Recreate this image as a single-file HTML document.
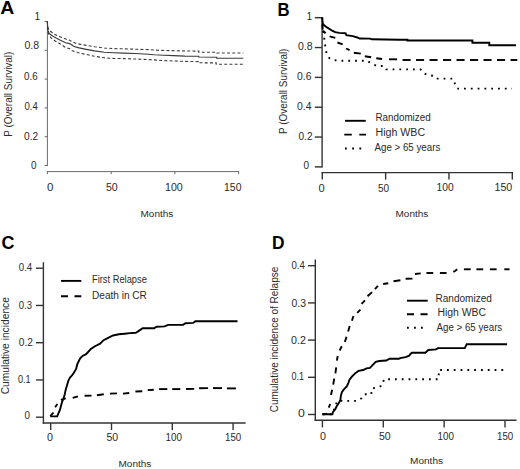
<!DOCTYPE html>
<html><head><meta charset="utf-8"><style>
html,body{margin:0;padding:0;background:#fff;}
body{width:520px;height:469px;overflow:hidden;}
svg{display:block;font-family:"Liberation Sans", sans-serif;}
</style></head><body>
<svg width="520" height="469" viewBox="0 0 520 469">
<rect width="520" height="469" fill="#fff"/>
<line x1="47.4" y1="21" x2="47.4" y2="166" stroke="#6a6a6a" stroke-width="1"/>
<line x1="44.6" y1="21.5" x2="47.4" y2="21.5" stroke="#6a6a6a" stroke-width="1"/>
<line x1="44.6" y1="50.3" x2="47.4" y2="50.3" stroke="#6a6a6a" stroke-width="1"/>
<line x1="44.6" y1="79.1" x2="47.4" y2="79.1" stroke="#6a6a6a" stroke-width="1"/>
<line x1="44.6" y1="107.9" x2="47.4" y2="107.9" stroke="#6a6a6a" stroke-width="1"/>
<line x1="44.6" y1="136.7" x2="47.4" y2="136.7" stroke="#6a6a6a" stroke-width="1"/>
<line x1="44.6" y1="165.5" x2="47.4" y2="165.5" stroke="#6a6a6a" stroke-width="1"/>
<line x1="46.9" y1="171.6" x2="239.15" y2="171.6" stroke="#6a6a6a" stroke-width="1"/>
<line x1="47.4" y1="171.6" x2="47.4" y2="174.2" stroke="#6a6a6a" stroke-width="1"/>
<line x1="111.15" y1="171.6" x2="111.15" y2="174.2" stroke="#6a6a6a" stroke-width="1"/>
<line x1="174.9" y1="171.6" x2="174.9" y2="174.2" stroke="#6a6a6a" stroke-width="1"/>
<line x1="238.65" y1="171.6" x2="238.65" y2="174.2" stroke="#6a6a6a" stroke-width="1"/>
<polyline points="47.4,21.5 47.6,26 48,30.8 49.3,33.4 51.8,35.5 56.1,38 60.4,40.2 65.5,42.7 69.7,43.6 72.3,45.3 74,46.6 79.1,47.9 85,49.1 94.6,50.9 104.2,52.3 113.8,52.8 123.5,53.1 135,53.5 144.6,54 154.2,54.8 163.8,55.3 173.5,55.6 185,56.1 198.8,56.2 198.8,57 216.7,57.2 216.7,58.2 243.3,58.2" fill="none" stroke="#3a3a3a" stroke-width="1.1" stroke-linecap="butt" stroke-linejoin="miter"/>
<polyline points="47.4,21.5 47.6,25 48,28.2 50.1,30.8 53.5,33.8 57.8,35.9 62.1,37.6 66.3,39.3 69.7,40.3 72.3,41.9 75.7,43.2 80.8,44.4 85,45.1 94.6,46.7 104.2,48 113.8,48.6 123.5,48.8 135,49.2 149.4,49.7 159,50.3 185,51 198.8,51.1 198.8,52.2 216.7,52.3 216.7,53 243.3,53" fill="none" stroke="#3a3a3a" stroke-width="1.1" stroke-dasharray="3 2.2" stroke-linecap="butt" stroke-linejoin="miter"/>
<polyline points="47.4,21.5 47.6,28 48.3,33 51,38 55.2,41 60.4,44 65.5,47.4 69.7,48.7 72.3,50.8 77.4,52.5 85,54.2 94.6,56.3 104.2,57.8 113.8,58.4 123.5,58.6 135,59 154.2,59.9 163.8,60.6 185,61.4 198.3,61.6 198.3,62.8 216.2,62.9 216.2,64.2 243.3,64.2" fill="none" stroke="#3a3a3a" stroke-width="1.1" stroke-dasharray="3 2.2" stroke-linecap="butt" stroke-linejoin="miter"/>
<line x1="322.1" y1="17.1" x2="322.1" y2="167.5" stroke="#333" stroke-width="1.4"/>
<line x1="314.8" y1="17.7" x2="322.1" y2="17.7" stroke="#333" stroke-width="1.4"/>
<line x1="314.8" y1="47.54" x2="322.1" y2="47.54" stroke="#333" stroke-width="1.4"/>
<line x1="314.8" y1="77.38" x2="322.1" y2="77.38" stroke="#333" stroke-width="1.4"/>
<line x1="314.8" y1="107.22" x2="322.1" y2="107.22" stroke="#333" stroke-width="1.4"/>
<line x1="314.8" y1="137.06" x2="322.1" y2="137.06" stroke="#333" stroke-width="1.4"/>
<line x1="314.8" y1="166.9" x2="322.1" y2="166.9" stroke="#333" stroke-width="1.4"/>
<line x1="321.4" y1="172.6" x2="513.01" y2="172.6" stroke="#333" stroke-width="1.4"/>
<line x1="322.3" y1="172.6" x2="322.3" y2="179.6" stroke="#333" stroke-width="1.4"/>
<line x1="385.63" y1="172.6" x2="385.63" y2="179.6" stroke="#333" stroke-width="1.4"/>
<line x1="448.97" y1="172.6" x2="448.97" y2="179.6" stroke="#333" stroke-width="1.4"/>
<line x1="512.31" y1="172.6" x2="512.31" y2="179.6" stroke="#333" stroke-width="1.4"/>
<polyline points="322.2,17.5 322.5,21 322.8,23.6 324.4,25.5 327,27.4 329.5,29 332.1,30.6 335.3,32.2 339.1,32.9 345.5,33.2 346.4,35.2 352.7,36.1 357.3,37.5 359.6,38.5 370,38.6 371.7,39.3 400,39.7 407.4,39.8 407.4,40.5 472.4,40.5 472.4,42.7 489.3,42.7 489.3,45.2 516,45.2" fill="none" stroke="#000" stroke-width="1.9" stroke-linecap="butt" stroke-linejoin="miter"/>
<line x1="322.4" y1="24.5" x2="322.7" y2="29.5" stroke="#000" stroke-width="1.9"/>
<line x1="322.9" y1="30.8" x2="325.6" y2="33.3" stroke="#000" stroke-width="1.9"/>
<line x1="329.6" y1="36.4" x2="335.3" y2="37.9" stroke="#000" stroke-width="1.9"/>
<line x1="337.4" y1="42.5" x2="342.7" y2="44.3" stroke="#000" stroke-width="1.9"/>
<line x1="346.1" y1="48.5" x2="349.6" y2="50.2" stroke="#000" stroke-width="1.9"/>
<line x1="353.8" y1="52.7" x2="360.8" y2="53.6" stroke="#000" stroke-width="1.9"/>
<line x1="364.8" y1="56.2" x2="371.2" y2="57.3" stroke="#000" stroke-width="1.9"/>
<line x1="376.3" y1="58.2" x2="382.1" y2="59" stroke="#000" stroke-width="1.9"/>
<line x1="389" y1="59.3" x2="397.1" y2="59.3" stroke="#000" stroke-width="1.9"/>
<line x1="402.5" y1="60" x2="410.6" y2="60" stroke="#000" stroke-width="1.9"/>
<line x1="416" y1="60" x2="424.1" y2="60" stroke="#000" stroke-width="1.9"/>
<line x1="429.5" y1="60" x2="437.6" y2="60" stroke="#000" stroke-width="1.9"/>
<line x1="443" y1="60" x2="451.1" y2="60" stroke="#000" stroke-width="1.9"/>
<line x1="456.5" y1="60" x2="464.6" y2="60" stroke="#000" stroke-width="1.9"/>
<line x1="470" y1="60" x2="478.1" y2="60" stroke="#000" stroke-width="1.9"/>
<line x1="483.5" y1="60" x2="491.6" y2="60" stroke="#000" stroke-width="1.9"/>
<line x1="497" y1="60" x2="505.1" y2="60" stroke="#000" stroke-width="1.9"/>
<line x1="510.5" y1="60" x2="517.3" y2="60" stroke="#000" stroke-width="1.9"/>
<polyline points="322.2,17.5 322.6,24 323,30 324.1,36.7 324.7,42.9 325.7,48.7 326.7,54.4 329.5,58.3 334.3,60.2 341,60.8 367.7,60.8 368.8,61.9 372.3,63.7 376.9,66 384,66 386.2,69.4 420.6,69.4 423,72.8 428,75.1 434.7,75.9 437.5,78.6 453,78.6 455,84 457,88.6 512,88.6" fill="none" stroke="#000" stroke-width="1.9" stroke-dasharray="1.8 5" stroke-linecap="butt" stroke-linejoin="miter"/>
<line x1="345" y1="120.8" x2="365.8" y2="120.8" stroke="#000" stroke-width="1.9"/>
<polyline points="344.3,134.6 366,134.6" fill="none" stroke="#000" stroke-width="1.9" stroke-dasharray="7.5 7.5" stroke-linecap="butt" stroke-linejoin="miter"/>
<polyline points="345,148.5 362,148.5" fill="none" stroke="#000" stroke-width="1.9" stroke-dasharray="1.8 5.4" stroke-linecap="butt" stroke-linejoin="miter"/>
<line x1="43.4" y1="262.2" x2="43.4" y2="423.7" stroke="#333" stroke-width="1.4"/>
<line x1="36" y1="268.2" x2="43.4" y2="268.2" stroke="#333" stroke-width="1.4"/>
<line x1="36" y1="305.45" x2="43.4" y2="305.45" stroke="#333" stroke-width="1.4"/>
<line x1="36" y1="342.7" x2="43.4" y2="342.7" stroke="#333" stroke-width="1.4"/>
<line x1="36" y1="379.95" x2="43.4" y2="379.95" stroke="#333" stroke-width="1.4"/>
<line x1="36" y1="417.2" x2="43.4" y2="417.2" stroke="#333" stroke-width="1.4"/>
<line x1="42.7" y1="423" x2="245.6" y2="423" stroke="#333" stroke-width="1.4"/>
<line x1="50.7" y1="423" x2="50.7" y2="430" stroke="#333" stroke-width="1.4"/>
<line x1="111.5" y1="423" x2="111.5" y2="430" stroke="#333" stroke-width="1.4"/>
<line x1="172.3" y1="423" x2="172.3" y2="430" stroke="#333" stroke-width="1.4"/>
<line x1="233.1" y1="423" x2="233.1" y2="430" stroke="#333" stroke-width="1.4"/>
<polyline points="50.3,416.4 57.2,416.4 58.3,413.7 59.9,410 60.9,406.3 62,402 63.6,398.3 64.7,394.5 65.7,389.7 66.8,386 68.4,380.7 70,377.5 72,375.5 74,372.5 76.1,368.9 77.3,364.2 80.2,358.3 82.5,356 86.1,354.2 90.8,349 95.4,346 100.1,343.7 103.6,340.2 107.2,338.4 113,335.5 118.9,334.3 124.7,333.7 130,333.1 135.8,332.8 138.1,331.4 142.7,328.2 154.2,328.2 156.5,326.8 164.6,326.4 168.1,324.9 183.1,324.7 185.4,323.3 193.1,322.9 195.4,321.2 237.5,321.2" fill="none" stroke="#000" stroke-width="1.9" stroke-linecap="butt" stroke-linejoin="miter"/>
<polyline points="50.3,416.2 53.5,412.5" fill="none" stroke="#000" stroke-width="1.9" stroke-linecap="butt" stroke-linejoin="miter"/>
<polyline points="55.1,407.3 57.4,404" fill="none" stroke="#000" stroke-width="1.9" stroke-linecap="butt" stroke-linejoin="miter"/>
<polyline points="60.9,399.9 65.7,398.3" fill="none" stroke="#000" stroke-width="1.9" stroke-linecap="butt" stroke-linejoin="miter"/>
<polyline points="72.7,397.9 78,396.3" fill="none" stroke="#000" stroke-width="1.9" stroke-linecap="butt" stroke-linejoin="miter"/>
<polyline points="84.6,395.7 91.5,395.6" fill="none" stroke="#000" stroke-width="1.9" stroke-linecap="butt" stroke-linejoin="miter"/>
<polyline points="96.9,395.2 103.8,394.3" fill="none" stroke="#000" stroke-width="1.9" stroke-linecap="butt" stroke-linejoin="miter"/>
<polyline points="110,393.6 116.9,393.4" fill="none" stroke="#000" stroke-width="1.9" stroke-linecap="butt" stroke-linejoin="miter"/>
<polyline points="123,393.6 129.2,393" fill="none" stroke="#000" stroke-width="1.9" stroke-linecap="butt" stroke-linejoin="miter"/>
<polyline points="135.4,391.5 142.3,391.3" fill="none" stroke="#000" stroke-width="1.9" stroke-linecap="butt" stroke-linejoin="miter"/>
<polyline points="147.7,390.1 153.8,389.8" fill="none" stroke="#000" stroke-width="1.9" stroke-linecap="butt" stroke-linejoin="miter"/>
<polyline points="159.1,389.1 167.3,389.1" fill="none" stroke="#000" stroke-width="1.9" stroke-linecap="butt" stroke-linejoin="miter"/>
<polyline points="172.2,389.1 180.3,389.1" fill="none" stroke="#000" stroke-width="1.9" stroke-linecap="butt" stroke-linejoin="miter"/>
<polyline points="186.1,389 194.2,388.9" fill="none" stroke="#000" stroke-width="1.9" stroke-linecap="butt" stroke-linejoin="miter"/>
<polyline points="199.1,388.2 208.1,388.1" fill="none" stroke="#000" stroke-width="1.9" stroke-linecap="butt" stroke-linejoin="miter"/>
<polyline points="213,388.1 222,388.1" fill="none" stroke="#000" stroke-width="1.9" stroke-linecap="butt" stroke-linejoin="miter"/>
<polyline points="226.9,388.4 235.9,388.4" fill="none" stroke="#000" stroke-width="1.9" stroke-linecap="butt" stroke-linejoin="miter"/>
<line x1="61" y1="280.9" x2="81.3" y2="280.9" stroke="#000" stroke-width="1.9"/>
<polyline points="61,296.3 81.3,296.3" fill="none" stroke="#000" stroke-width="1.9" stroke-dasharray="7 6.5" stroke-linecap="butt" stroke-linejoin="miter"/>
<line x1="315.3" y1="259.6" x2="315.3" y2="421" stroke="#333" stroke-width="1.4"/>
<line x1="308" y1="265.7" x2="315.3" y2="265.7" stroke="#333" stroke-width="1.4"/>
<line x1="308" y1="302.9" x2="315.3" y2="302.9" stroke="#333" stroke-width="1.4"/>
<line x1="308" y1="340.1" x2="315.3" y2="340.1" stroke="#333" stroke-width="1.4"/>
<line x1="308" y1="377.3" x2="315.3" y2="377.3" stroke="#333" stroke-width="1.4"/>
<line x1="308" y1="414.5" x2="315.3" y2="414.5" stroke="#333" stroke-width="1.4"/>
<line x1="314.6" y1="420.3" x2="516.5" y2="420.3" stroke="#333" stroke-width="1.4"/>
<line x1="322.4" y1="420.3" x2="322.4" y2="427.5" stroke="#333" stroke-width="1.4"/>
<line x1="383.26" y1="420.3" x2="383.26" y2="427.5" stroke="#333" stroke-width="1.4"/>
<line x1="444.13" y1="420.3" x2="444.13" y2="427.5" stroke="#333" stroke-width="1.4"/>
<line x1="505" y1="420.3" x2="505" y2="427.5" stroke="#333" stroke-width="1.4"/>
<polyline points="322.3,414.3 332.4,414.3 332.9,412.1 335.1,409.5 336.7,406.3 338.8,403.1 340.4,399.9 340.9,395.6 342,391.9 344.1,389.2 346.8,386.5 348.4,382.8 349.5,379.6 352.1,376.4 355.3,373.3 358.5,370.9 363.1,370 366.5,368.3 370,367.9 372.3,365.4 375.8,361.9 379.2,361 386.2,360.5 389.6,358.7 398.8,358.7 401.2,357.9 405.8,357.1 409.2,355.6 410.5,354 411.9,352.7 425.4,352.7 428.3,350 436,349.4 437.9,348.1 464.8,348.1 466.7,344.2 507.1,344.2" fill="none" stroke="#000" stroke-width="1.9" stroke-linecap="butt" stroke-linejoin="miter"/>
<polyline points="322.7,414.4 327,413.6" fill="none" stroke="#000" stroke-width="1.9" stroke-linecap="butt" stroke-linejoin="miter"/>
<polyline points="328.7,407.7 330.2,404" fill="none" stroke="#000" stroke-width="1.9" stroke-linecap="butt" stroke-linejoin="miter"/>
<polyline points="331,395 332.1,389.8" fill="none" stroke="#000" stroke-width="1.9" stroke-linecap="butt" stroke-linejoin="miter"/>
<polyline points="333.2,384.6 334.2,378.6" fill="none" stroke="#000" stroke-width="1.9" stroke-linecap="butt" stroke-linejoin="miter"/>
<polyline points="335.4,373.4 336.2,367.4" fill="none" stroke="#000" stroke-width="1.9" stroke-linecap="butt" stroke-linejoin="miter"/>
<polyline points="336.9,360.7 337.7,356.2" fill="none" stroke="#000" stroke-width="1.9" stroke-linecap="butt" stroke-linejoin="miter"/>
<polyline points="339.6,350.5 341.8,346.2" fill="none" stroke="#000" stroke-width="1.9" stroke-linecap="butt" stroke-linejoin="miter"/>
<polyline points="344.9,342.1 346.5,336.8" fill="none" stroke="#000" stroke-width="1.9" stroke-linecap="butt" stroke-linejoin="miter"/>
<polyline points="348.1,331.5 349.7,326.1" fill="none" stroke="#000" stroke-width="1.9" stroke-linecap="butt" stroke-linejoin="miter"/>
<polyline points="351.9,320.8 353.5,316" fill="none" stroke="#000" stroke-width="1.9" stroke-linecap="butt" stroke-linejoin="miter"/>
<polyline points="357.2,312.8 360.4,309.6" fill="none" stroke="#000" stroke-width="1.9" stroke-linecap="butt" stroke-linejoin="miter"/>
<polyline points="361.5,303.8 365,300.3" fill="none" stroke="#000" stroke-width="1.9" stroke-linecap="butt" stroke-linejoin="miter"/>
<polyline points="367.5,296.2 372.1,292.1" fill="none" stroke="#000" stroke-width="1.9" stroke-linecap="butt" stroke-linejoin="miter"/>
<polyline points="375,289.2 377.9,285.8" fill="none" stroke="#000" stroke-width="1.9" stroke-linecap="butt" stroke-linejoin="miter"/>
<polyline points="383.1,284 388.3,283.2" fill="none" stroke="#000" stroke-width="1.9" stroke-linecap="butt" stroke-linejoin="miter"/>
<polyline points="393.5,281.2 400.4,280.3" fill="none" stroke="#000" stroke-width="1.9" stroke-linecap="butt" stroke-linejoin="miter"/>
<polyline points="405.6,278.8 412.5,278.6" fill="none" stroke="#000" stroke-width="1.9" stroke-linecap="butt" stroke-linejoin="miter"/>
<polyline points="415,274 420.7,273.4" fill="none" stroke="#000" stroke-width="1.9" stroke-linecap="butt" stroke-linejoin="miter"/>
<polyline points="426.4,273 433.2,273" fill="none" stroke="#000" stroke-width="1.9" stroke-linecap="butt" stroke-linejoin="miter"/>
<polyline points="439.9,273 446.6,273" fill="none" stroke="#000" stroke-width="1.9" stroke-linecap="butt" stroke-linejoin="miter"/>
<polyline points="453.3,271.8 455,271 457.2,269.3" fill="none" stroke="#000" stroke-width="1.9" stroke-linecap="butt" stroke-linejoin="miter"/>
<polyline points="463.9,269.3 470.7,269.3" fill="none" stroke="#000" stroke-width="1.9" stroke-linecap="butt" stroke-linejoin="miter"/>
<polyline points="476.4,269.3 483.2,269.3" fill="none" stroke="#000" stroke-width="1.9" stroke-linecap="butt" stroke-linejoin="miter"/>
<polyline points="489.9,269.3 496.6,269.3" fill="none" stroke="#000" stroke-width="1.9" stroke-linecap="butt" stroke-linejoin="miter"/>
<polyline points="504.3,269.3 509.5,269.3" fill="none" stroke="#000" stroke-width="1.9" stroke-linecap="butt" stroke-linejoin="miter"/>
<polyline points="322.7,414.4 332.4,414.3 333.5,411 335.5,406 337.3,400.9 357.5,400.9 361.5,398.3 364.4,394.2 371.3,394.2 371.7,388.5 377.7,387.3 382.3,385.6 384,379.2 438.75,379.2 438.75,370 506.25,370" fill="none" stroke="#000" stroke-width="1.9" stroke-dasharray="1.8 5" stroke-linecap="butt" stroke-linejoin="miter"/>
<line x1="406.9" y1="300.7" x2="427.7" y2="300.7" stroke="#000" stroke-width="1.9"/>
<polyline points="406.9,314.3 427.7,314.3" fill="none" stroke="#000" stroke-width="1.9" stroke-dasharray="7.1 6.5" stroke-linecap="butt" stroke-linejoin="miter"/>
<polyline points="407,327.7 425,327.7" fill="none" stroke="#000" stroke-width="1.9" stroke-dasharray="1.8 5.2" stroke-linecap="butt" stroke-linejoin="miter"/>
<text id="pA" x="0.2" y="13.85" font-size="17.6" font-weight="bold" fill="#000" textLength="14.09" lengthAdjust="spacingAndGlyphs">A</text>
<text id="pB" x="277.5" y="15.7" font-size="17.6" font-weight="bold" fill="#000" textLength="12.06" lengthAdjust="spacingAndGlyphs">B</text>
<text id="pC" x="1.5" y="249" font-size="17.6" font-weight="bold" fill="#000" textLength="12.98" lengthAdjust="spacingAndGlyphs">C</text>
<text id="pD" x="272" y="249" font-size="17.6" font-weight="bold" fill="#000" textLength="12.53" lengthAdjust="spacingAndGlyphs">D</text>
<text id="Ay1" x="34.45" y="19.8" font-size="10.2" fill="#2a2a2a">1</text>
<text id="Ay08" x="24.5" y="49.2" font-size="10.2" fill="#2a2a2a" textLength="14.58" lengthAdjust="spacingAndGlyphs">0.8</text>
<text id="Ay06" x="24" y="80.1" font-size="10.2" fill="#2a2a2a" textLength="13.59" lengthAdjust="spacingAndGlyphs">0.6</text>
<text id="Ay04" x="24.5" y="110.1" font-size="10.2" fill="#2a2a2a" textLength="13.39" lengthAdjust="spacingAndGlyphs">0.4</text>
<text id="Ay02" x="24" y="139.5" font-size="10.2" fill="#2a2a2a" textLength="14.17" lengthAdjust="spacingAndGlyphs">0.2</text>
<text id="Ay0" x="31" y="168.5" font-size="10.2" fill="#2a2a2a" textLength="5.53" lengthAdjust="spacingAndGlyphs">0</text>
<text id="Ax0" x="47" y="191" font-size="10.2" fill="#2a2a2a" textLength="6.43" lengthAdjust="spacingAndGlyphs">0</text>
<text id="Ax50" x="106" y="190.8" font-size="10.2" fill="#2a2a2a" textLength="11.76" lengthAdjust="spacingAndGlyphs">50</text>
<text id="Ax100" x="165" y="190.9" font-size="10.2" fill="#2a2a2a" textLength="17.66" lengthAdjust="spacingAndGlyphs">100</text>
<text id="Ax150" x="224" y="190.9" font-size="10.2" fill="#2a2a2a" textLength="17.45" lengthAdjust="spacingAndGlyphs">150</text>
<text id="AM" x="140.5" y="216.7" font-size="9.7" fill="#2a2a2a" textLength="32.81" lengthAdjust="spacingAndGlyphs">Months</text>
<text id="Ayl" x="0" y="0" transform="translate(11.9,94.25) rotate(-90)" font-size="10.2" text-anchor="middle" fill="#2a2a2a" textLength="85.12" lengthAdjust="spacingAndGlyphs">P (Overall Survival)</text>
<text id="By1" x="306.6" y="19.8" font-size="10.2" fill="#2a2a2a">1</text>
<text id="By08" x="298" y="49.5" font-size="10.2" fill="#2a2a2a" textLength="14.66" lengthAdjust="spacingAndGlyphs">0.8</text>
<text id="By06" x="297" y="80.1" font-size="10.2" fill="#2a2a2a" textLength="14.42" lengthAdjust="spacingAndGlyphs">0.6</text>
<text id="By04" x="297" y="109.8" font-size="10.2" fill="#2a2a2a" textLength="14.42" lengthAdjust="spacingAndGlyphs">0.4</text>
<text id="By02" x="298.5" y="139.5" font-size="10.2" fill="#2a2a2a" textLength="13.99" lengthAdjust="spacingAndGlyphs">0.2</text>
<text id="By0" x="303.5" y="168.7" font-size="10.2" fill="#2a2a2a" textLength="5.53" lengthAdjust="spacingAndGlyphs">0</text>
<text id="Bx0" x="318.5" y="191.5" font-size="10.2" fill="#2a2a2a" textLength="6.14" lengthAdjust="spacingAndGlyphs">0</text>
<text id="Bx50" x="378" y="191.5" font-size="10.2" fill="#2a2a2a" textLength="11.17" lengthAdjust="spacingAndGlyphs">50</text>
<text id="Bx100" x="436.5" y="191.4" font-size="10.2" fill="#2a2a2a" textLength="17.1" lengthAdjust="spacingAndGlyphs">100</text>
<text id="Bx150" x="494.5" y="191.4" font-size="10.2" fill="#2a2a2a" textLength="17.79" lengthAdjust="spacingAndGlyphs">150</text>
<text id="BM" x="395.5" y="216.7" font-size="9.7" fill="#2a2a2a" textLength="32.81" lengthAdjust="spacingAndGlyphs">Months</text>
<text id="Byl" x="0" y="0" transform="translate(287,91.25) rotate(-90)" font-size="10.2" text-anchor="middle" fill="#2a2a2a" textLength="85.33" lengthAdjust="spacingAndGlyphs">P (Overall Survival)</text>
<text id="BL1" x="375.5" y="121.4" font-size="10" fill="#2a2a2a" textLength="55.14" lengthAdjust="spacingAndGlyphs">Randomized</text>
<text id="BL2" x="375.5" y="135.6" font-size="10" fill="#2a2a2a" textLength="49.6" lengthAdjust="spacingAndGlyphs">High WBC</text>
<text id="BL3" x="374.5" y="151" font-size="10" fill="#2a2a2a" textLength="65.78" lengthAdjust="spacingAndGlyphs">Age &gt; 65 years</text>
<text id="Cy04" x="18.75" y="271" font-size="10.2" fill="#2a2a2a" textLength="13.46" lengthAdjust="spacingAndGlyphs">0.4</text>
<text id="Cy03" x="18.75" y="308.7" font-size="10.2" fill="#2a2a2a" textLength="13.19" lengthAdjust="spacingAndGlyphs">0.3</text>
<text id="Cy02" x="18.75" y="346.25" font-size="10.2" fill="#2a2a2a" textLength="14.2" lengthAdjust="spacingAndGlyphs">0.2</text>
<text id="Cy01" x="18" y="382.7" font-size="10.2" fill="#2a2a2a" textLength="12.71" lengthAdjust="spacingAndGlyphs">0.1</text>
<text id="Cy0" x="24.5" y="419.4" font-size="10.2" fill="#2a2a2a" textLength="5.45" lengthAdjust="spacingAndGlyphs">0</text>
<text id="Cx0" x="47" y="440.8" font-size="10.2" fill="#2a2a2a" textLength="5.97" lengthAdjust="spacingAndGlyphs">0</text>
<text id="Cx50" x="106.5" y="440.8" font-size="10.2" fill="#2a2a2a" textLength="11.68" lengthAdjust="spacingAndGlyphs">50</text>
<text id="Cx100" x="165.5" y="441" font-size="10.2" fill="#2a2a2a" textLength="16.39" lengthAdjust="spacingAndGlyphs">100</text>
<text id="Cx150" x="225" y="441" font-size="10.2" fill="#2a2a2a" textLength="16.23" lengthAdjust="spacingAndGlyphs">150</text>
<text id="CM" x="118.5" y="467.1" font-size="9.7" fill="#2a2a2a" textLength="32.81" lengthAdjust="spacingAndGlyphs">Months</text>
<text id="Cyl" x="0" y="0" transform="translate(9,345.75) rotate(-90)" font-size="10.2" text-anchor="middle" fill="#2a2a2a" textLength="97.25" lengthAdjust="spacingAndGlyphs">Cumulative incidence</text>
<text id="CL1" x="92" y="282.5" font-size="10" fill="#2a2a2a" textLength="54.85" lengthAdjust="spacingAndGlyphs">First Relapse</text>
<text id="CL2" x="92" y="298.5" font-size="10" fill="#2a2a2a" textLength="54.88" lengthAdjust="spacingAndGlyphs">Death in CR</text>
<text id="Dy04" x="291.5" y="269" font-size="10.2" fill="#2a2a2a" textLength="13.39" lengthAdjust="spacingAndGlyphs">0.4</text>
<text id="Dy03" x="291.5" y="306.7" font-size="10.2" fill="#2a2a2a" textLength="14.42" lengthAdjust="spacingAndGlyphs">0.3</text>
<text id="Dy02" x="291" y="343.8" font-size="10.2" fill="#2a2a2a" textLength="14.86" lengthAdjust="spacingAndGlyphs">0.2</text>
<text id="Dy01" x="291.5" y="380" font-size="10.2" fill="#2a2a2a" textLength="12.56" lengthAdjust="spacingAndGlyphs">0.1</text>
<text id="Dy0" x="298" y="417" font-size="10.2" fill="#2a2a2a" textLength="6.81" lengthAdjust="spacingAndGlyphs">0</text>
<text id="Dx0" x="320" y="439.6" font-size="10.2" fill="#2a2a2a" textLength="5.97" lengthAdjust="spacingAndGlyphs">0</text>
<text id="Dx50" x="379" y="439.6" font-size="10.2" fill="#2a2a2a" textLength="11.69" lengthAdjust="spacingAndGlyphs">50</text>
<text id="Dx100" x="437.5" y="440.1" font-size="10.2" fill="#2a2a2a" textLength="16.39" lengthAdjust="spacingAndGlyphs">100</text>
<text id="Dx150" x="497" y="440.1" font-size="10.2" fill="#2a2a2a" textLength="16.23" lengthAdjust="spacingAndGlyphs">150</text>
<text id="DM" x="410" y="464.1" font-size="9.7" fill="#2a2a2a" textLength="33.02" lengthAdjust="spacingAndGlyphs">Months</text>
<text id="Dyl" x="0" y="0" transform="translate(278,339.5) rotate(-90)" font-size="10.2" text-anchor="middle" fill="#2a2a2a" textLength="145.55" lengthAdjust="spacingAndGlyphs">Cumulative incidence of Relapse</text>
<text id="DL1" x="435.5" y="301.5" font-size="10" fill="#2a2a2a" textLength="56.37" lengthAdjust="spacingAndGlyphs">Randomized</text>
<text id="DL2" x="437.5" y="316" font-size="10" fill="#2a2a2a" textLength="48.59" lengthAdjust="spacingAndGlyphs">High WBC</text>
<text id="DL3" x="436.5" y="330.8" font-size="10" fill="#2a2a2a" textLength="65.74" lengthAdjust="spacingAndGlyphs">Age &gt; 65 years</text>
</svg>
</body></html>
